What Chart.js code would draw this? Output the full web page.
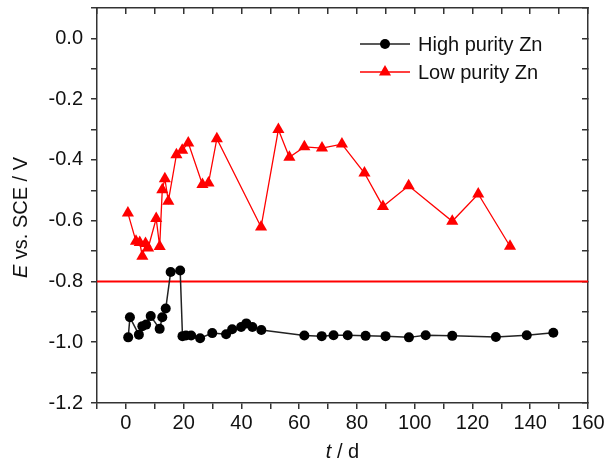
<!DOCTYPE html>
<html>
<head>
<meta charset="utf-8">
<script src="https://cdn.jsdelivr.net/npm/chart.js@4/dist/chart.umd.min.js"></script>
<style>
  html, body { margin: 0; padding: 0; background: #fff; }
  #wrap { width: 609px; height: 473px; }
</style>
</head>
<body>
<div id="wrap"><canvas id="c" width="609" height="473"></canvas></div>
<script>
// ---- data ----
const highT = [0.8, 1.4, 4.5, 5.7, 7.0, 8.6, 11.7, 12.6, 13.8, 15.5, 18.8, 19.6, 20.8, 22.6, 25.7, 29.9, 34.7, 36.8, 39.9, 41.7, 43.8, 46.9, 61.8, 67.8, 71.9, 76.8, 83.0, 89.9, 98.0, 103.8, 113.0, 128.1, 138.8, 148.0];
const highE = [-0.984, -0.918, -0.975, -0.947, -0.942, -0.914, -0.956, -0.918, -0.889, -0.769, -0.764, -0.980, -0.978, -0.978, -0.987, -0.970, -0.974, -0.957, -0.950, -0.938, -0.950, -0.960, -0.978, -0.980, -0.977, -0.977, -0.979, -0.980, -0.984, -0.977, -0.979, -0.983, -0.977, -0.969];

const lowT = [0.7, 3.5, 4.8, 5.7, 6.8, 7.7, 10.5, 11.7, 12.6, 13.5, 14.7, 17.5, 19.5, 21.6, 26.5, 28.6, 31.5, 46.8, 52.8, 56.6, 61.8, 67.9, 74.8, 82.6, 89.0, 97.9, 113.0, 122.0, 133.0];
const lowE = [-0.575, -0.668, -0.672, -0.717, -0.675, -0.690, -0.593, -0.685, -0.498, -0.462, -0.536, -0.383, -0.368, -0.344, -0.481, -0.476, -0.330, -0.621, -0.300, -0.391, -0.357, -0.361, -0.348, -0.443, -0.553, -0.485, -0.602, -0.512, -0.684];

const refT = [-10, 160];
const refE = -0.8;

const seriesNames = ['High purity Zn', 'Low purity Zn'];
const xTitle = [['t', true], [' / d', false]];
const yTitle = [['E', true], [' vs. SCE / V', false]];

// ---- chart ----
const FONT = "'Liberation Sans', Arial, Helvetica, sans-serif";
const FS = 20;
const AX = '#333';
const RED = '#ff0000';

const toPts = (xs, ys) => xs.map((x, i) => ({ x: x, y: Array.isArray(ys) ? ys[i] : ys }));

function drawMixed(ctx, parts, cx, cy) {
  let total = 0;
  const w = parts.map(([t, it]) => {
    ctx.font = (it ? 'italic ' : '') + FS + 'px ' + FONT;
    const m = ctx.measureText(t).width;
    total += m;
    return m;
  });
  let x = cx - total / 2;
  ctx.textBaseline = 'middle';
  ctx.textAlign = 'left';
  parts.forEach(([t, it], i) => {
    ctx.font = (it ? 'italic ' : '') + FS + 'px ' + FONT;
    ctx.fillText(t, x, cy);
    x += w[i];
  });
}

const overlay = {
  id: 'overlay',
  afterDraw(chart) {
    const { ctx, chartArea: a } = chart;
    ctx.save();
    ctx.fillStyle = '#111';
    // axis titles
    drawMixed(ctx, xTitle, (a.left + a.right) / 2, 452);
    ctx.save();
    ctx.translate(21, (a.top + a.bottom) / 2 + 12);
    ctx.rotate(-Math.PI / 2);
    drawMixed(ctx, yTitle, 0, 0);
    ctx.restore();
    // legend
    const ds = chart.data.datasets.slice(0, 2);
    ds.forEach((d, i) => {
      const y = a.top + 36 + i * 28;
      const x0 = a.right - 228;
      ctx.strokeStyle = d.borderColor;
      ctx.lineWidth = 1.5;
      ctx.beginPath();
      ctx.moveTo(x0, y);
      ctx.lineTo(x0 + 50, y);
      ctx.stroke();
      ctx.fillStyle = d.pointBackgroundColor;
      const cx = x0 + 25;
      const r = d.pointRadius;
      ctx.beginPath();
      if (d.pointStyle === 'triangle') {
        ctx.moveTo(cx, y - r);
        ctx.lineTo(cx + r * Math.sin(2 * Math.PI / 3), y - r * Math.cos(2 * Math.PI / 3));
        ctx.lineTo(cx - r * Math.sin(2 * Math.PI / 3), y - r * Math.cos(2 * Math.PI / 3));
        ctx.closePath();
      } else {
        ctx.arc(cx, y, r, 0, Math.PI * 2);
      }
      ctx.fill();
      ctx.fillStyle = '#111';
      ctx.font = FS + 'px ' + FONT;
      ctx.textAlign = 'left';
      ctx.textBaseline = 'middle';
      ctx.fillText(d.label, x0 + 58, y + 1);
    });
    ctx.restore();
  }
};

const gridCommon = (len) => ({
  drawOnChartArea: false,
  drawTicks: true,
  tickLength: len,
  color: AX,
  tickColor: AX,
  lineWidth: 1.5
});
const borderCommon = { display: true, color: AX, width: 1.5 };

new Chart(document.getElementById('c'), {
  type: 'scatter',
  data: {
    datasets: [
      {
        label: seriesNames[0],
        data: toPts(highT, highE),
        showLine: true,
        borderColor: '#222',
        borderWidth: 1.5,
        pointStyle: 'circle',
        pointRadius: 5,
        pointBackgroundColor: '#000',
        pointBorderColor: '#000',
        pointBorderWidth: 0,
        xAxisID: 'x', yAxisID: 'y'
      },
      {
        label: seriesNames[1],
        data: toPts(lowT, lowE),
        showLine: true,
        borderColor: RED,
        borderWidth: 1.3,
        pointStyle: 'triangle',
        pointRadius: 7,
        pointBackgroundColor: RED,
        pointBorderColor: RED,
        pointBorderWidth: 0,
        xAxisID: 'x', yAxisID: 'y'
      },
      {
        label: 'ref',
        data: toPts(refT, refE),
        showLine: true,
        borderColor: RED,
        borderWidth: 2,
        pointRadius: 0,
        xAxisID: 'x', yAxisID: 'y'
      }
    ]
  },
  options: {
    responsive: false,
    animation: false,
    layout: { padding: 0 },
    plugins: { legend: { display: false }, tooltip: { enabled: false } },
    scales: {
      x: {
        type: 'linear', position: 'bottom', min: -10, max: 160,
        ticks: {
          stepSize: 10, autoSkip: false, maxRotation: 0, padding: 2,
          color: '#111', font: { family: FONT, size: FS },
          callback: v => (Math.round(v) % 20 === 0 ? String(Math.round(v)) : '')
        },
        grid: gridCommon(6),
        border: borderCommon,
        afterFit: s => { s.height = 70; s.paddingLeft = 0; s.paddingRight = 0; }
      },
      x2: {
        type: 'linear', position: 'top', min: -10, max: 160,
        ticks: { stepSize: 10, autoSkip: false, display: false },
        grid: gridCommon(-6),
        border: borderCommon,
        afterFit: s => { s.height = 8; s.paddingLeft = 0; s.paddingRight = 0; }
      },
      y: {
        type: 'linear', position: 'left', min: -1.2, max: 0.1,
        ticks: {
          stepSize: 0.1, autoSkip: false, padding: 8,
          color: '#111', font: { family: FONT, size: FS },
          callback: v => {
            const k = Math.round(v * 10);
            return k % 2 === 0 ? (k / 10).toFixed(1) : '';
          }
        },
        grid: gridCommon(6),
        border: borderCommon,
        afterFit: s => { s.width = 97; s.paddingTop = 0; s.paddingBottom = 0; }
      },
      y2: {
        type: 'linear', position: 'right', min: -1.2, max: 0.1,
        ticks: { stepSize: 0.1, autoSkip: false, display: false },
        grid: gridCommon(-6),
        border: borderCommon,
        afterFit: s => { s.width = 21; s.paddingTop = 0; s.paddingBottom = 0; }
      }
    }
  },
  plugins: [overlay]
});
</script>
</body>
</html>
